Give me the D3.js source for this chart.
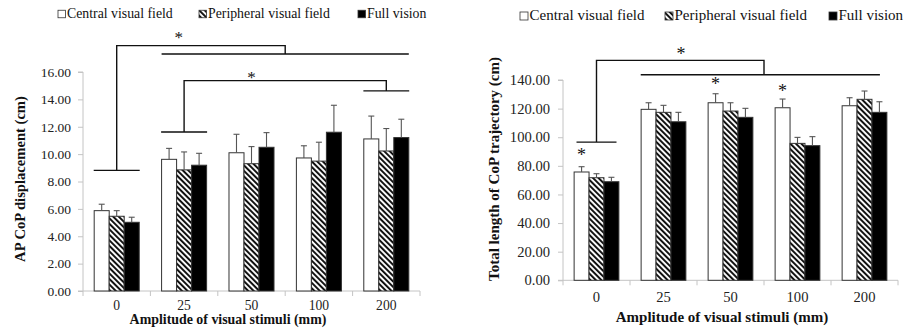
<!DOCTYPE html>
<html><head><meta charset="utf-8">
<script src="https://cdn.jsdelivr.net/npm/d3@7"></script>
<style>
html,body{margin:0;padding:0;background:#fff;}
svg{display:block;font-family:"Liberation Serif","Times New Roman",serif;}
</style></head>
<body>
<svg id="c" width="914" height="331"></svg>
<script>
// ---------- data ----------
const categories = ["0", "25", "50", "100", "200"];
const seriesNames = ["Central visual field", "Peripheral visual field", "Full vision"];

// Left chart: AP CoP displacement (cm)
const apCentral = [5.87, 9.62, 10.10, 9.72, 11.11];
const apCentralErr = [0.47, 0.80, 1.35, 0.89, 1.67];
const apPeripheral = [5.46, 8.85, 9.30, 9.49, 10.23];
const apPeripheralErr = [0.41, 1.31, 1.25, 1.38, 1.64];
const apFull = [5.02, 9.19, 10.50, 11.60, 11.21];
const apFullErr = [0.37, 0.87, 1.07, 1.97, 1.34];
const apTicks = [0, 2, 4, 6, 8, 10, 12, 14, 16];

// Right chart: Total length of CoP trajectory (cm)
const tlCentral = [75.7, 119.5, 124.1, 120.6, 122.0];
const tlCentralErr = [3.7, 4.6, 6.3, 6.1, 5.6];
const tlPeripheral = [71.7, 117.4, 118.3, 95.7, 126.5];
const tlPeripheralErr = [2.8, 4.9, 5.8, 4.2, 5.8];
const tlFull = [68.9, 110.8, 113.9, 94.1, 117.4];
const tlFullErr = [3.1, 6.6, 6.3, 6.3, 7.4];
const tlTicks = [0, 20, 40, 60, 80, 100, 120, 140];

// significance stars above single bars: [category, series, value]
const apStars = [];
const tlStars = [["0", 0, 89.2], ["50", 0, 138.7], ["100", 0, 133.5]];

const svg = d3.select("#c");
const defs = svg.append("defs");
const pat = defs.append("pattern").attr("id", "hatch")
  .attr("patternUnits", "userSpaceOnUse").attr("width", 3.9).attr("height", 3.9)
  .attr("patternTransform", "rotate(-45)");
pat.append("rect").attr("width", 3.9).attr("height", 3.9).attr("fill", "#fff");
pat.append("rect").attr("width", 2.0).attr("height", 3.9).attr("fill", "#111");

const fills = ["#fff", "url(#hatch)", "#000"];

function star(g, xp, yp, size) {
  g.append("text").attr("x", xp).attr("y", yp + size * 0.45)
    .attr("text-anchor", "middle").attr("font-size", size).attr("fill", "#111").text("*");
}

function drawChart(cfg) {
  const g = svg.append("g");
  const x = d3.scaleBand().domain(categories).range([cfg.left, cfg.right]);
  const bw = x.bandwidth();
  const pad = bw * 0.166;
  const xs = d3.scaleBand().domain(d3.range(3)).range([pad, bw - pad]);
  const y = d3.scaleLinear().domain([0, cfg.max]).range([cfg.bottom, cfg.top]);

  // y axis
  const ya = g.append("g").attr("transform", `translate(${cfg.left},0)`)
    .call(d3.axisLeft(y).tickValues(cfg.ticks).tickSize(5).tickPadding(cfg.tickPad)
      .tickFormat(d3.format(".2f")));
  ya.selectAll("path,line").attr("stroke", "#c4c4c4");
  ya.select(".domain").attr("d", `M-5,${cfg.top}H0V${cfg.bottom}H-5`);
  ya.selectAll("text").attr("font-family", "Liberation Serif").attr("font-size", cfg.tickFont).attr("fill", "#222");

  // x axis
  const xa = g.append("g").attr("transform", `translate(0,${cfg.bottom})`);
  xa.append("line").attr("x1", cfg.left).attr("x2", cfg.right).attr("stroke", "#c4c4c4");
  const bounds = categories.map(c => x(c)).concat([cfg.right]);
  xa.selectAll("line.tk").data(bounds).join("line").attr("class", "tk")
    .attr("x1", d => d).attr("x2", d => d).attr("y1", 0).attr("y2", 5).attr("stroke", "#c4c4c4");
  const xl = g.append("g").attr("transform", `translate(0,${cfg.bottom})`)
    .call(d3.axisBottom(x).tickSize(0).tickPadding(cfg.xLabPad));
  xl.select(".domain").remove();
  xl.selectAll("text").attr("font-family", "Liberation Serif").attr("font-size", cfg.xFont).attr("fill", "#222");

  // bars
  const rows = [];
  cfg.series.forEach((s, si) => s.vals.forEach((v, ci) =>
    rows.push({ c: categories[ci], si, v, e: s.errs[ci] })));
  g.selectAll("rect.bar").data(rows).join("rect").attr("class", "bar")
    .attr("x", d => x(d.c) + xs(d.si)).attr("width", xs.bandwidth())
    .attr("y", d => y(d.v)).attr("height", d => cfg.bottom - y(d.v))
    .attr("fill", d => fills[d.si]).attr("stroke", "#333").attr("stroke-width", 1);
  // error bars (upper only)
  const eb = g.selectAll("g.err").data(rows).join("g").attr("class", "err")
    .attr("stroke", "#555").attr("stroke-width", 1.1);
  eb.append("line").attr("x1", d => x(d.c) + xs(d.si) + xs.bandwidth() / 2)
    .attr("x2", d => x(d.c) + xs(d.si) + xs.bandwidth() / 2)
    .attr("y1", d => y(d.v)).attr("y2", d => y(d.v + d.e));
  eb.append("line").attr("x1", d => x(d.c) + xs(d.si) + xs.bandwidth() / 2 - 3)
    .attr("x2", d => x(d.c) + xs(d.si) + xs.bandwidth() / 2 + 3)
    .attr("y1", d => y(d.v + d.e)).attr("y2", d => y(d.v + d.e));

  // brackets
  const cx = c => x(c) + bw / 2;
  cfg.brackets.forEach(b => {
    const p = d3.path();
    p.moveTo(cx(b.from) - b.half, y(b.low)); p.lineTo(cx(b.from) + b.half, y(b.low));
    p.moveTo(cx(b.from), y(b.low)); p.lineTo(cx(b.from), y(b.top));
    const xr = b.toX(x, bw);
    p.lineTo(xr, y(b.top)); p.lineTo(xr, y(b.mid));
    p.moveTo(b.spanL(x, bw), y(b.mid)); p.lineTo(b.spanR(x, bw), y(b.mid));
    g.append("path").attr("d", p.toString()).attr("fill", "none")
      .attr("stroke", "#111").attr("stroke-width", 1.4);
    star(g, b.starX(x, bw), y(b.star), cfg.starFont);
  });
  cfg.stars.forEach(s => star(g, x(s[0]) + xs(s[1]) + xs.bandwidth() / 2, y(s[2]), cfg.starFont));

  // titles
  g.append("text").attr("transform", `translate(${cfg.yTitleX},${cfg.yTitleY}) rotate(-90)`)
    .attr("text-anchor", "middle").attr("dominant-baseline", "middle")
    .attr("font-weight", "bold").attr("font-size", cfg.yTitleFont).attr("fill", "#111").text(cfg.yTitle);
  g.append("text").attr("x", cfg.xTitleX).attr("y", cfg.xTitleY)
    .attr("text-anchor", "middle").attr("dominant-baseline", "middle")
    .attr("font-weight", "bold").attr("font-size", cfg.titleFont).attr("fill", "#111")
    .text("Amplitude of visual stimuli (mm)");

  // legend
  seriesNames.forEach((n, i) => {
    const lx = cfg.legendX[i];
    g.append("rect").attr("x", lx).attr("y", cfg.legendY - cfg.legSq / 2 - 1)
      .attr("width", cfg.legSq).attr("height", cfg.legSq)
      .attr("fill", fills[i]).attr("stroke", "#333").attr("stroke-width", 0.8);
    g.append("text").attr("x", lx + cfg.legSq + 1.5).attr("y", cfg.legendY)
      .attr("dominant-baseline", "middle").attr("font-size", cfg.legFont).attr("fill", "#111").text(n);
  });
}

drawChart({
  left: 83, right: 420, top: 72, bottom: 291, max: 16, ticks: apTicks,
  tickFont: 13.5, tickPad: 7, xFont: 13.6, xLabPad: 9, titleFont: 13.9, yTitleFont: 14.6, starFont: 17, legFont: 13.8,
  legSq: 7.5, legendX: [58, 199, 358], legendY: 15,
  yTitle: "AP CoP displacement (cm)", yTitleX: 22, yTitleY: 179,
  xTitleX: 228, xTitleY: 321,
  series: [{ vals: apCentral, errs: apCentralErr }, { vals: apPeripheral, errs: apPeripheralErr }, { vals: apFull, errs: apFullErr }],
  stars: apStars,
  brackets: [
    { from: "0", half: 23, low: 8.81, top: 17.93, mid: 17.32, star: 18.66,
      toX: (x, bw) => x("100"),
      spanL: (x, bw) => x("25") + bw * 0.166, spanR: (x, bw) => x("200") + bw * 0.834,
      starX: (x, bw) => x("25") + bw * 0.42 },
    { from: "25", half: 23, low: 11.62, top: 15.37, mid: 14.62, star: 15.79,
      toX: (x, bw) => x("200") + bw / 2,
      spanL: (x, bw) => x("200") + bw * 0.16, spanR: (x, bw) => x("200") + bw * 0.84,
      starX: (x, bw) => x("50") + bw / 2 }
  ]
});

drawChart({
  left: 563, right: 898, top: 80, bottom: 280.3, max: 140, ticks: tlTicks,
  tickFont: 14.6, tickPad: 8, xFont: 14.6, xLabPad: 11, titleFont: 15, yTitleFont: 15, starFont: 18, legFont: 15,
  legSq: 8, legendX: [520, 665, 829], legendY: 17,
  yTitle: "Total length of CoP trajectory (cm)", yTitleX: 496, yTitleY: 169,
  xTitleX: 722, xTitleY: 319,
  series: [{ vals: tlCentral, errs: tlCentralErr }, { vals: tlPeripheral, errs: tlPeripheralErr }, { vals: tlFull, errs: tlFullErr }],
  stars: tlStars,
  brackets: [
    { from: "0", half: 20, low: 96.6, top: 153.7, mid: 143.7, star: 159.3,
      toX: (x, bw) => x("100"),
      spanL: (x, bw) => x("25") + bw * 0.16, spanR: (x, bw) => x("200") + bw * 0.73,
      starX: (x, bw) => x("25") + bw * 0.76 }
  ]
});
</script>
</body></html>
